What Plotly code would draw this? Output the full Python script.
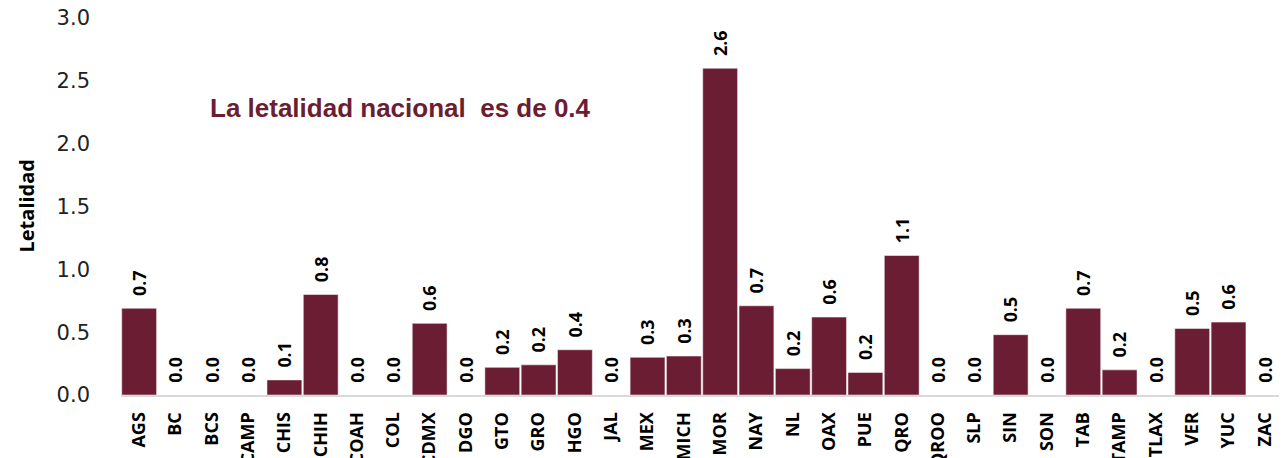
import plotly.graph_objects as go

states = ["AGS","BC","BCS","CAMP","CHIS","CHIH","COAH","COL","CDMX","DGO","GTO","GRO","HGO","JAL",
          "MEX","MICH","MOR","NAY","NL","OAX","PUE","QRO","QROO","SLP","SIN","SON","TAB","TAMP",
          "TLAX","VER","YUC","ZAC"]
letalidad = [0.69,0.0,0.0,0.0,0.12,0.80,0.0,0.0,0.57,0.0,0.22,0.24,0.36,0.0,
             0.30,0.31,2.60,0.71,0.21,0.62,0.18,1.11,0.0,0.0,0.48,0.0,0.69,0.20,
             0.0,0.53,0.58,0.0]
tick_vals = [0,0.5,1.0,1.5,2.0,2.5,3.0]
tick_text = ["0.0","0.5","1.0","1.5","2.0","2.5","3.0"]

color = "#6B1E33"
lab = "Open Sans"
labels = ["\u00a0\u00a0" + f"{v:.1f}" for v in letalidad]

W, H = 1279, 450
ML, MR, MT, MB = 113, 4, 10, 63

fig = go.Figure(go.Bar(
    x=states, y=letalidad,
    marker=dict(color=color, line=dict(color="white", width=0.5)),
    text=labels, textposition="outside", textangle=-90,
    textfont=dict(family=lab, size=21, color="black", weight="bold"),
    cliponaxis=False,
))

fig.update_layout(
    width=W, height=H,
    margin=dict(l=ML, r=MR, t=MT, b=MB),
    plot_bgcolor="white", paper_bgcolor="white",
    bargap=0.04,
    showlegend=False,
    yaxis=dict(range=[0,3.0], tickvals=tick_vals, ticktext=tick_text, showgrid=False,
               zeroline=False, showline=False, ticks="", automargin=False,
               ticklabelstandoff=30, ticklabeloverflow="allow",
               tickfont=dict(family="DejaVu Sans", size=21, color="#222")),
    xaxis=dict(showline=True, linecolor="#d9d9d9", linewidth=2, tickangle=-90, ticks="",
               automargin=False, ticklabelstandoff=8, ticklabeloverflow="allow",
               tickfont=dict(family=lab, size=18, color="black", weight="bold")),
    annotations=[
        dict(text="La letalidad nacional  es de 0.4", x=(200 - ML) / (W - ML - MR), y=2.285,
             xref="paper", yref="y",
             showarrow=False, xanchor="left", yanchor="middle",
             font=dict(family="Liberation Sans", size=26, color="#6B1E33", weight="bold")),
        dict(text="Letalidad", x=(18 - ML) / (W - ML - MR), y=0.5, xref="paper", yref="paper",
             textangle=-90, showarrow=False, xanchor="center", yanchor="middle",
             font=dict(family=lab, size=20, color="black", weight="bold")),
    ],
)

fig.write_html("out.html")
